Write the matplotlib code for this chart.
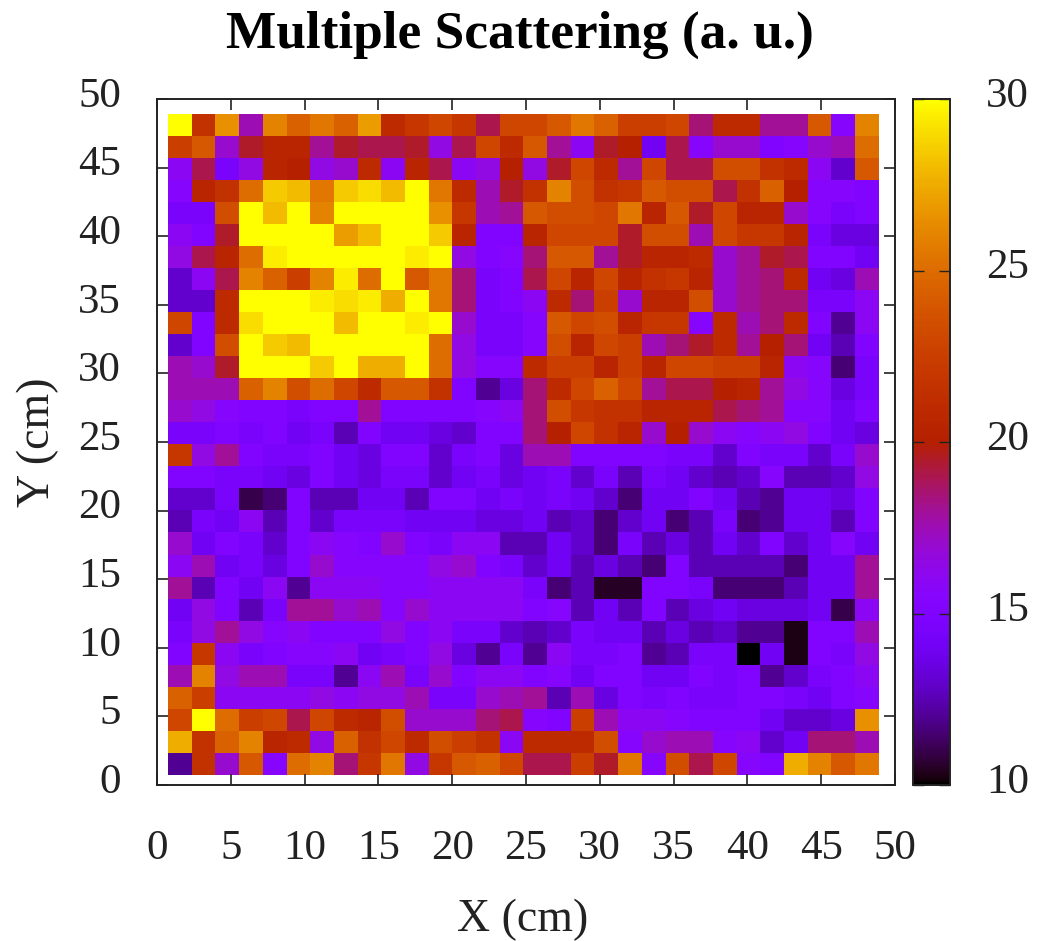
import numpy as np
import matplotlib
matplotlib.use("Agg")
import matplotlib.pyplot as plt
from matplotlib.transforms import ScaledTranslation

plt.rcParams['font.family'] = ['Liberation Serif', 'DejaVu Serif']

title = "Multiple Scattering (a. u.)"
x_label = "X (cm)"
y_label = "Y (cm)"
axis_ticks = [0, 5, 10, 15, 20, 25, 30, 35, 40, 45, 50]
cbar_ticks = [10, 15, 20, 25, 30]
value_min = 10
value_max = 30
grid_start = 0.75
grid_step = 1.605

# rows listed from the top of the map (y high) to the bottom (y low)
rows_top_down = [
 [30,21.5,26.5,17.5,26,24.5,25.5,24.5,27,21,22,23,22,19,23,23,24,25.5,24.5,22.5,22.5,23,18.5,21,21,18,18,24,15.5,26],
 [22.5,24,17,19.5,20.5,20.5,18,19.5,19,19,19.5,16.5,19,23,21,24,18,16,19.5,20,14,19,15.5,17,17,15,15.5,17,17.5,25],
 [16,19,14.5,16.5,20.5,20,16.5,17,21,16,20.5,19,16,16.5,20,16.5,19.5,23,21,18,23,19,19,23.5,23.5,21.5,21,16,13,24],
 [15.5,20.5,21.5,25,28.5,28,25.5,28.5,29,28,30,25.5,21,17.5,19.5,21.5,26,23.5,21.5,22,24,23.5,23.5,19,21.5,24.5,20,15.5,15.5,15],
 [14.5,14.5,23.5,30,28,30,26,30,30,30,30,26.5,22,17.5,18,24,23.5,23.5,23,25.5,20.5,24,19.5,23,20.5,20.5,17,15.5,14.5,15],
 [16,15,19.5,30,30,30,30,27,28,30,30,28.5,20.5,15,15,20.5,23,23,23,19.5,23.5,23.5,17.5,23,22,22,20.5,14.5,13.5,13.5],
 [16.5,19,20.5,25,29.5,30,30,30,30,30,29.5,30,16.5,15,15.5,18.5,24,24,18,19.5,20.5,20.5,21,17,18,19.5,19,15,15,14],
 [13,16,19,26,24.5,22.5,26,29.5,25,30,24,25.5,18.5,14.5,15,19,23,20.5,23,20.5,21.5,22,20.5,17,18,18.5,21,14,13.5,17.5],
 [13,13,21,30,30,30,29.5,29,29.5,27.5,30,25.5,18.5,14.5,15,16,21,18.5,22.5,17,20.5,20.5,23.5,17,18,18.5,18.5,14.5,14.5,16],
 [23,15,21,29,30,30,30,28,30,30,29.5,30,17,14.5,14.5,15.5,24,23,23.5,20.5,22,22,15.5,21,17.5,18.5,21,15,12,16],
 [13,15,23.5,30,28.5,28,30,30,30,30,30,25,16.5,14.5,14.5,15.5,23.5,20.5,23,22.5,17.5,18.5,19.5,21,18,20,18.5,14,12.5,15],
 [17.5,17,19.5,30,30,30,28.5,30,27.5,27.5,30,25,16.5,15.5,15.5,21,22.5,22.5,20.5,22.5,20.5,23,23,22.5,22.5,20.5,16,15.5,11.5,14.5],
 [17.5,17.5,17.5,24.5,26,23.5,25,23,21,24,24,21.5,15,12,13.5,18.5,21,23,24.5,23,18,19,19,20,20.5,18,16.5,15.5,13.5,14.5],
 [17,16.5,15.5,15,15,14.5,15,15,18,15,15,15,15,15.5,16,18.5,23.5,22,21.5,21.5,20.5,20.5,20.5,19,18.5,18,15.5,15.5,14,15],
 [14.5,14.5,15,14.5,15,14,14.5,12.5,15,14,14,13.5,13,15,15,18.5,20,23,21.5,20.5,17,20,17,16,15.5,16,16.5,15,14,13.5],
 [22,16.5,18,15,14.5,14.5,15,14,13.5,15,15,13,14.5,15,13.5,17.5,17.5,15,15,15,15,14.5,14.5,13,15,14.5,14.5,13,14.5,17],
 [15,15,14.5,14.5,14,13.5,15,14,13.5,14.5,14.5,13,14,14.5,13.5,14,14.5,13,14.5,12.5,14.5,14,13,12.5,13,15.5,12.5,12.5,13,16.5],
 [13,13,14.5,11,11.5,15,12.5,12.5,14,14,12.5,15,15,14,14.5,14,14.5,14,13,11.5,14,14,15,14,12.5,12,14,14,13.5,15],
 [12.5,14.5,14,16,12.5,15,13,14.5,14.5,14.5,14,14,14,13.5,13.5,14,12.5,13,11.5,13,14,11.5,12.5,14.5,11.5,12,14,14,12.5,15],
 [17,14,15,14.5,13,15,16,15.5,15,17,15,14.5,16,16,12.5,12.5,14,13,11.5,14.5,12.5,13.5,12.5,14,13,15,13,14,15.5,14],
 [16,17.5,14,14.5,13.5,15,17,15.5,15.5,15.5,15.5,16.5,17,15,14.5,13,14,12.5,13.5,12.5,11.5,15,12.5,12.5,12.5,12.5,11.5,14,14,18],
 [18,12.5,15,14,16,12,16,16,16,15.5,15.5,16,16,16,16,14.5,11.5,12.5,10.5,10.5,15,15,14.5,11.5,11.5,11.5,12.5,14,14,18],
 [14,16.5,15,12.5,14.5,18,18,17,17.5,15.5,17,16,16,16,16,15,15.5,12.5,14,12.5,15,12.5,13.5,14,13.5,13.5,13.5,14,11,16],
 [14.5,16.5,18,16.5,15.5,16,15,15,15,16.5,15,16,14.5,14.5,13,12.5,13,14.5,14,14,12.5,13.5,12.5,13,12,12,10.3,15,15,17.5],
 [15,22,16,14.5,15,15.5,15.5,16,14,14.5,15,16.5,13.5,12,14.5,12,16,14.5,14.5,15,12,12.5,14.5,14.5,10,14,10.3,15,14.5,16.5],
 [17.5,26,16.5,17.5,17.5,14.5,14.5,12,16,17.5,14.5,17,15,16,16,15,15.5,14,15,15,14,14,15,14.5,15,12,13,14.5,15,16],
 [24.5,22.5,16,16,16,16,16.5,16,16.5,16.5,17.5,14.5,14.5,17,17.5,18,12.5,17.5,13.5,15,14.5,15,14.5,14.5,15,15,14.5,14,15,15.5],
 [23,30,25,22.5,23,19,23,21,20.5,23.5,17,17,17,18.5,19,15.5,15,22.5,17.5,16,16,15.5,15,15,15,14,13,13,13.5,26.5],
 [27.5,21.5,24.5,26,20.5,21,16.5,24.5,21.5,23,21,23.5,22.5,21.5,16,21,21,21,23.5,15.5,17,17.5,17.5,15.5,16,13,14,18.5,18.5,17.5],
 [12,21.5,17,24,15.5,25,26,18.5,22,25.5,16.5,22,24,24.5,23,19,19,22.5,19.5,25.5,15.5,23.5,19,23,15.5,15,27.5,26,24,25.5],
]

W, H = 1050, 941
TXT = '#222222'
fig = plt.figure(figsize=(W / 100, H / 100), dpi=100, facecolor='white')
L, R, T, B = 157, 895, 99, 785
ax = fig.add_axes([L / W, 1 - B / H, (R - L) / W, (B - T) / H])

values = np.array(rows_top_down)[::-1]
n_rows, n_cols = values.shape
x_edges = grid_start + grid_step * np.arange(n_cols + 1)
y_edges = grid_start + grid_step * np.arange(n_rows + 1)
mesh = ax.pcolormesh(x_edges, y_edges, values, cmap='gnuplot',
                     vmin=value_min, vmax=value_max, edgecolors='none')
ax.set_xlim(0, 50)
ax.set_ylim(0, 50)
ax.set_xticks(axis_ticks)
ax.set_yticks(axis_ticks)
ax.tick_params(direction='in', length=8, width=1.2, top=True, right=True,
               labelsize=31, color=TXT, labelcolor=TXT)
ax.tick_params(axis='x', pad=32)
ax.tick_params(axis='y', pad=26)
for s in ax.spines.values():
    s.set_linewidth(1.4)
    s.set_color(TXT)

ax.set_xlabel(x_label, fontsize=33, color=TXT)
ax.set_ylabel(y_label, fontsize=33, color=TXT)
ax.xaxis.set_label_coords(523 / W, 1 - 920 / H, transform=fig.transFigure)
ax.yaxis.set_label_coords(38 / W, 1 - 442 / H, transform=fig.transFigure)
ax.xaxis.label.set_va('center')
ax.yaxis.label.set_va('center')

cax = fig.add_axes([913 / W, 1 - B / H, 37 / W, (B - T) / H])
cb = fig.colorbar(mesh, cax=cax, ticks=cbar_ticks)
cb.ax.tick_params(direction='in', length=8, width=1.0, left=True, right=True,
                  color=TXT, labelsize=31, pad=26, labelcolor=TXT)
cb.outline.set_linewidth(1.4)
cb.outline.set_edgecolor(TXT)

lift = ScaledTranslation(0, 5 / 72, fig.dpi_scale_trans)
for lab in list(ax.get_yticklabels()) + list(cb.ax.get_yticklabels()):
    lab.set_transform(lab.get_transform() + lift)

fig.text(520 / W, 1 - 35 / H, title, fontsize=38.4, fontweight='bold',
         ha='center', va='center', color='black')

fig.savefig('out.png', dpi=100, facecolor='white')
